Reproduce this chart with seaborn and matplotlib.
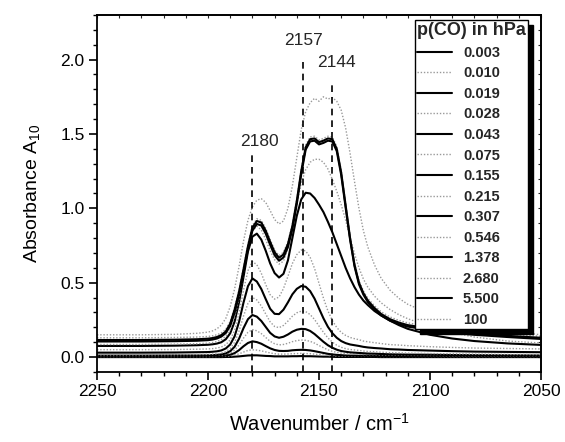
import matplotlib
matplotlib.use("Agg")
import matplotlib.pyplot as plt
import seaborn as sns
from matplotlib.ticker import MultipleLocator, FormatStrFormatter

wn = [2250, 2230, 2215, 2205, 2200, 2198, 2196, 2194, 2192, 2190, 2188, 2186, 2184,
      2182, 2180, 2178, 2176, 2174, 2172, 2170, 2168, 2166, 2164, 2162, 2160, 2158,
      2156, 2154, 2152, 2150, 2148, 2146, 2144, 2142, 2140, 2138, 2136, 2134, 2132,
      2130, 2128, 2125, 2122, 2118, 2114, 2110, 2100, 2090, 2080, 2065, 2050]

p_0003 = [0.000, 0.000, 0.000, 0.000, 0.000, 0.000, 0.000, 0.000, 0.001, 0.001, 0.003, 0.005, 0.008,
          0.011, 0.012, 0.012, 0.010, 0.008, 0.007, 0.005, 0.005, 0.005, 0.005, 0.006, 0.006, 0.007,
          0.006, 0.006, 0.005, 0.004, 0.003, 0.003, 0.002, 0.001, 0.001, 0.001, 0.001, 0.001, 0.001,
          0.001, 0.001, 0.001, 0.000, 0.000, 0.000, 0.000, 0.000, 0.000, 0.000, 0.000, 0.000]
p_0010 = [0.003, 0.003, 0.003, 0.003, 0.003, 0.004, 0.004, 0.004, 0.006, 0.008, 0.013, 0.022, 0.034,
          0.045, 0.049, 0.047, 0.042, 0.035, 0.028, 0.023, 0.020, 0.020, 0.021, 0.023, 0.024, 0.025,
          0.024, 0.023, 0.020, 0.017, 0.014, 0.011, 0.009, 0.008, 0.007, 0.006, 0.006, 0.005, 0.005,
          0.005, 0.005, 0.005, 0.004, 0.004, 0.004, 0.004, 0.004, 0.003, 0.003, 0.003, 0.003]
p_0019 = [0.005, 0.005, 0.005, 0.006, 0.006, 0.006, 0.007, 0.008, 0.011, 0.016, 0.027, 0.047, 0.073,
          0.095, 0.106, 0.101, 0.090, 0.074, 0.059, 0.048, 0.042, 0.041, 0.042, 0.046, 0.048, 0.049,
          0.048, 0.045, 0.040, 0.034, 0.028, 0.022, 0.018, 0.015, 0.013, 0.011, 0.010, 0.010, 0.009,
          0.009, 0.009, 0.008, 0.008, 0.007, 0.007, 0.007, 0.006, 0.006, 0.006, 0.005, 0.005]
p_0028 = [0.008, 0.008, 0.008, 0.009, 0.009, 0.010, 0.011, 0.013, 0.018, 0.028, 0.047, 0.082, 0.128,
          0.167, 0.185, 0.177, 0.158, 0.132, 0.106, 0.090, 0.082, 0.085, 0.093, 0.104, 0.111, 0.115,
          0.113, 0.106, 0.094, 0.078, 0.063, 0.049, 0.039, 0.032, 0.027, 0.023, 0.021, 0.020, 0.019,
          0.017, 0.017, 0.016, 0.015, 0.014, 0.013, 0.012, 0.011, 0.010, 0.010, 0.009, 0.009]
p_0043 = [0.010, 0.010, 0.011, 0.011, 0.012, 0.013, 0.015, 0.018, 0.025, 0.040, 0.070, 0.124, 0.195,
          0.255, 0.283, 0.272, 0.243, 0.203, 0.163, 0.139, 0.130, 0.137, 0.152, 0.171, 0.184, 0.190,
          0.188, 0.176, 0.155, 0.129, 0.103, 0.080, 0.063, 0.050, 0.041, 0.036, 0.032, 0.030, 0.028,
          0.026, 0.024, 0.023, 0.021, 0.019, 0.018, 0.017, 0.016, 0.014, 0.013, 0.012, 0.011]
p_0075 = [0.015, 0.015, 0.016, 0.017, 0.018, 0.020, 0.022, 0.027, 0.037, 0.058, 0.100, 0.176, 0.276,
          0.361, 0.401, 0.384, 0.344, 0.290, 0.237, 0.206, 0.198, 0.213, 0.242, 0.275, 0.298, 0.309,
          0.306, 0.286, 0.253, 0.209, 0.167, 0.129, 0.101, 0.080, 0.066, 0.057, 0.051, 0.048, 0.045,
          0.041, 0.038, 0.036, 0.033, 0.030, 0.029, 0.027, 0.024, 0.022, 0.020, 0.018, 0.017]
p_0155 = [0.030, 0.030, 0.031, 0.033, 0.034, 0.036, 0.039, 0.045, 0.058, 0.085, 0.140, 0.238, 0.367,
          0.477, 0.529, 0.508, 0.458, 0.390, 0.325, 0.291, 0.289, 0.319, 0.368, 0.422, 0.459, 0.478,
          0.473, 0.444, 0.393, 0.327, 0.261, 0.204, 0.161, 0.130, 0.108, 0.094, 0.085, 0.080, 0.075,
          0.069, 0.065, 0.061, 0.058, 0.053, 0.051, 0.048, 0.044, 0.040, 0.037, 0.035, 0.033]
p_0215 = [0.050, 0.050, 0.051, 0.053, 0.055, 0.057, 0.061, 0.068, 0.083, 0.116, 0.180, 0.298, 0.450,
          0.581, 0.643, 0.621, 0.564, 0.488, 0.419, 0.390, 0.404, 0.461, 0.543, 0.629, 0.689, 0.720,
          0.714, 0.671, 0.596, 0.496, 0.397, 0.311, 0.246, 0.199, 0.166, 0.146, 0.132, 0.124, 0.117,
          0.108, 0.103, 0.097, 0.091, 0.084, 0.081, 0.077, 0.070, 0.065, 0.061, 0.058, 0.055]
p_0307 = [0.075, 0.075, 0.077, 0.080, 0.083, 0.086, 0.091, 0.100, 0.120, 0.160, 0.240, 0.370, 0.540,
          0.710, 0.810, 0.830, 0.790, 0.715, 0.630, 0.565, 0.535, 0.560, 0.650, 0.800, 0.950, 1.060,
          1.105, 1.100, 1.070, 1.025, 0.975, 0.910, 0.840, 0.760, 0.680, 0.600, 0.530, 0.470, 0.420,
          0.380, 0.350, 0.310, 0.280, 0.245, 0.215, 0.190, 0.150, 0.125, 0.108, 0.092, 0.082]
p_0546 = [0.085, 0.085, 0.087, 0.090, 0.094, 0.098, 0.105, 0.117, 0.140, 0.185, 0.270, 0.400, 0.570,
          0.740, 0.850, 0.880, 0.855, 0.790, 0.715, 0.655, 0.625, 0.645, 0.730, 0.870, 1.030, 1.170,
          1.260, 1.310, 1.330, 1.330, 1.310, 1.265, 1.195, 1.115, 1.025, 0.920, 0.805, 0.695, 0.600,
          0.525, 0.470, 0.410, 0.365, 0.320, 0.285, 0.258, 0.205, 0.165, 0.135, 0.108, 0.095]
p_1378 = [0.105, 0.105, 0.107, 0.110, 0.114, 0.118, 0.125, 0.138, 0.162, 0.210, 0.300, 0.420, 0.570,
          0.725, 0.850, 0.895, 0.885, 0.830, 0.755, 0.685, 0.648, 0.670, 0.740, 0.860, 1.030, 1.230,
          1.395, 1.450, 1.455, 1.430, 1.440, 1.455, 1.450, 1.385, 1.225, 1.005, 0.790, 0.610, 0.490,
          0.420, 0.370, 0.320, 0.280, 0.245, 0.222, 0.205, 0.182, 0.165, 0.150, 0.135, 0.122]
p_2680 = [0.130, 0.130, 0.132, 0.135, 0.139, 0.143, 0.150, 0.163, 0.187, 0.240, 0.335, 0.455, 0.605,
          0.760, 0.885, 0.930, 0.920, 0.865, 0.790, 0.720, 0.683, 0.705, 0.775, 0.895, 1.065, 1.265,
          1.425, 1.480, 1.485, 1.460, 1.470, 1.485, 1.480, 1.415, 1.255, 1.035, 0.815, 0.635, 0.515,
          0.445, 0.395, 0.345, 0.305, 0.270, 0.247, 0.230, 0.205, 0.188, 0.172, 0.155, 0.140]
p_5500 = [0.115, 0.115, 0.117, 0.120, 0.124, 0.128, 0.135, 0.148, 0.172, 0.225, 0.320, 0.440, 0.590,
          0.745, 0.870, 0.915, 0.905, 0.850, 0.775, 0.705, 0.668, 0.690, 0.760, 0.880, 1.050, 1.250,
          1.410, 1.465, 1.470, 1.445, 1.455, 1.470, 1.465, 1.400, 1.240, 1.020, 0.800, 0.620, 0.500,
          0.430, 0.380, 0.330, 0.290, 0.255, 0.232, 0.215, 0.192, 0.175, 0.160, 0.143, 0.130]
p_100 = [0.150, 0.150, 0.153, 0.160, 0.168, 0.176, 0.190, 0.215, 0.260, 0.340, 0.460, 0.610, 0.780,
         0.920, 1.010, 1.055, 1.065, 1.040, 0.985, 0.925, 0.895, 0.915, 1.000, 1.150, 1.340, 1.530,
         1.650, 1.710, 1.740, 1.720, 1.750, 1.735, 1.745, 1.720, 1.660, 1.540, 1.370, 1.180, 1.000,
         0.850, 0.740, 0.620, 0.530, 0.450, 0.395, 0.355, 0.290, 0.245, 0.210, 0.175, 0.150]

labels = ["0.003", "0.010", "0.019", "0.028", "0.043", "0.075", "0.155",
          "0.215", "0.307", "0.546", "1.378", "2.680", "5.500", "100"]
spectra = [p_0003, p_0010, p_0019, p_0028, p_0043, p_0075, p_0155,
           p_0215, p_0307, p_0546, p_1378, p_2680, p_5500, p_100]

# band positions marked with dashed lines
peak_pos = [2180, 2157, 2144]
peak_top = [1.38, 2.00, 1.85]
peak_lab_y = [1.45, 2.13, 1.98]
peak_lab_dx = [-3, 0, -2]

sns.set_theme(style="ticks")
plt.rcParams["font.family"] = ["Liberation Sans", "DejaVu Sans"]
plt.rcParams["mathtext.fontset"] = "custom"
plt.rcParams["mathtext.rm"] = "Liberation Sans"

fig = plt.figure(figsize=(5.65, 4.42), dpi=100)
ax = fig.add_axes([0.1717, 0.1584, 0.7858, 0.8077])

for i, (lab, vals) in enumerate(zip(labels, spectra)):
    if i % 2 == 0:
        sns.lineplot(x=wn, y=vals, ax=ax, color="black", lw=1.5, label=lab, sort=False)
    else:
        sns.lineplot(x=wn, y=vals, ax=ax, color="0.6", lw=1.0, ls=(0, (1, 1.3)),
                     label=lab, sort=False)

ax.vlines(peak_pos, -0.1, peak_top, colors="black", linestyles=(0, (4, 3)), lw=1.2)
for x, y, dx in zip(peak_pos, peak_lab_y, peak_lab_dx):
    ax.text(x + dx, y, str(x), ha="center", va="center", fontsize=12.5)

ax.set_xlim(2250, 2050)
ax.set_ylim(-0.1, 2.3)
ax.xaxis.set_major_locator(MultipleLocator(50))
ax.xaxis.set_minor_locator(MultipleLocator(10))
ax.yaxis.set_major_locator(MultipleLocator(0.5))
ax.yaxis.set_minor_locator(MultipleLocator(0.1))
ax.yaxis.set_major_formatter(FormatStrFormatter("%.1f"))
ax.tick_params(which="major", length=6, width=1.2, labelsize=12.5, color="black",
               labelcolor="black", pad=3)
ax.tick_params(which="minor", length=3, width=1.0, color="black")
for s in ax.spines.values():
    s.set_linewidth(1.3)
    s.set_color("black")

# small inward ticks on the top and right frame
top = ax.secondary_xaxis("top")
top.xaxis.set_major_locator(MultipleLocator(10))
top.tick_params(direction="in", length=2.5, width=0.8, labeltop=False)
right = ax.secondary_yaxis("right")
right.yaxis.set_major_locator(MultipleLocator(0.1))
right.tick_params(direction="in", length=2.5, width=0.8, labelright=False)

ax.set_xlabel("Wavenumber / cm$\\mathregular{^{-1}}$", fontsize=14.5, color="black",
              labelpad=10)
ax.set_ylabel("Absorbance A$\\mathregular{_{10}}$", fontsize=14, color="black",
              labelpad=13)

leg = ax.legend(title="p(CO) in hPa", loc="upper right", bbox_to_anchor=(0.971, 0.986),
                borderaxespad=0, frameon=True, fancybox=False, alignment="left",
                handlelength=2.4, handletextpad=0.75, labelspacing=0.45, borderpad=0.15,
                prop={"weight": "bold", "size": 10.5},
                title_fontproperties={"weight": "bold", "size": 13},
                shadow={"ox": 3.5, "oy": -3.5, "facecolor": "black",
                        "edgecolor": "black", "alpha": 1})
leg.get_frame().set_edgecolor("black")
leg.get_frame().set_linewidth(1.0)
leg.get_frame().set_alpha(1)

fig.savefig("out.png", dpi=100)
